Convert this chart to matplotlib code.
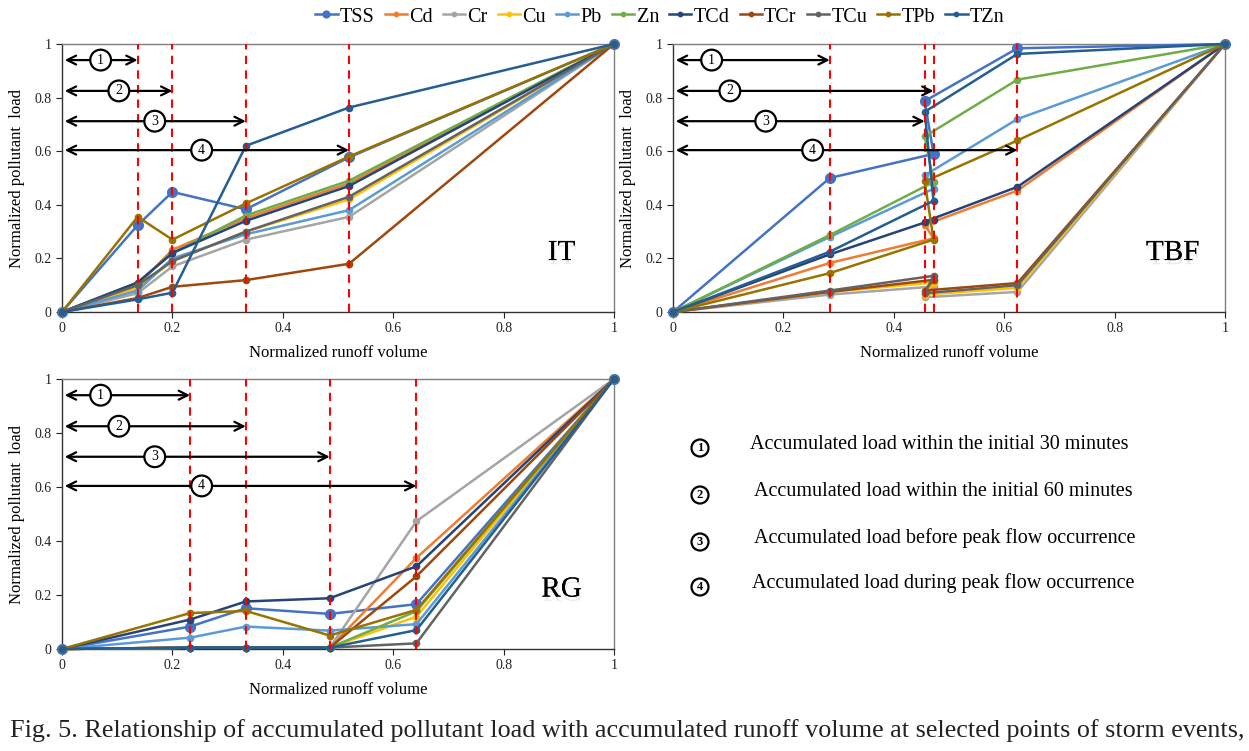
import matplotlib
matplotlib.use("Agg")
import matplotlib.pyplot as plt
import matplotlib.patheffects as pe

plt.rcParams['font.family'] = ['Liberation Serif', 'DejaVu Serif']

# series names and colours (Excel palette)
series = ['TSS', 'Cd', 'Cr', 'Cu', 'Pb', 'Zn', 'TCd', 'TCr', 'TCu', 'TPb', 'TZn']
colors = ['#4472C4', '#ED7D31', '#A5A5A5', '#FFC000', '#5B9BD5', '#70AD47',
          '#264478', '#9E480E', '#636363', '#997300', '#255E91']

# normalized runoff volume at selected points (0, 30 min, 60 min, before peak, peak, end)
x_it = [0, 0.137, 0.2, 0.333, 0.52, 1]
x_tbf = [0, 0.284, 0.472, 0.456, 0.624, 1]
x_rg = [0, 0.232, 0.333, 0.485, 0.642, 1]

# normalized pollutant load, one row per series
y_it = [
    [0, 0.324, 0.448, 0.383, 0.577, 1],
    [0, 0.10, 0.232, 0.35, 0.48, 1],
    [0, 0.07, 0.17, 0.27, 0.355, 1],
    [0, 0.09, 0.19, 0.30, 0.42, 1],
    [0, 0.08, 0.20, 0.29, 0.38, 1],
    [0, 0.11, 0.22, 0.36, 0.49, 1],
    [0, 0.11, 0.22, 0.34, 0.47, 1],
    [0, 0.052, 0.094, 0.119, 0.18, 1],
    [0, 0.10, 0.19, 0.30, 0.43, 1],
    [0, 0.355, 0.27, 0.405, 0.58, 1],
    [0, 0.047, 0.072, 0.62, 0.763, 1],
]
y_tbf = [
    [0, 0.50, 0.59, 0.787, 0.984, 1],
    [0, 0.183, 0.275, 0.325, 0.453, 1],
    [0, 0.065, 0.095, 0.055, 0.075, 1],
    [0, 0.075, 0.11, 0.065, 0.09, 1],
    [0, 0.28, 0.46, 0.51, 0.72, 1],
    [0, 0.287, 0.485, 0.655, 0.867, 1],
    [0, 0.215, 0.345, 0.337, 0.467, 1],
    [0, 0.075, 0.12, 0.08, 0.108, 1],
    [0, 0.08, 0.135, 0.07, 0.10, 1],
    [0, 0.145, 0.27, 0.487, 0.64, 1],
    [0, 0.225, 0.415, 0.747, 0.963, 1],
]
y_rg = [
    [0, 0.083, 0.151, 0.13, 0.166, 1],
    [0, 0.005, 0.005, 0.005, 0.337, 1],
    [0, 0.005, 0.005, 0.005, 0.473, 1],
    [0, 0.005, 0.005, 0.005, 0.12, 1],
    [0, 0.042, 0.083, 0.068, 0.092, 1],
    [0, 0.005, 0.005, 0.005, 0.14, 1],
    [0, 0.109, 0.176, 0.188, 0.306, 1],
    [0, 0.005, 0.005, 0.005, 0.269, 1],
    [0, 0.005, 0.005, 0.005, 0.021, 1],
    [0, 0.133, 0.141, 0.05, 0.145, 1],
    [0, 0.005, 0.005, 0.005, 0.07, 1],
]

marks = ['1', '2', '3', '4']
mark_text = ['Accumulated load within the initial 30 minutes',
             'Accumulated load within the initial 60 minutes',
             'Accumulated load before peak flow occurrence',
             'Accumulated load during peak flow occurrence']
arrow_y = [0.94, 0.825, 0.712, 0.604]
mark_x = [0.07, 0.103, 0.168, 0.253]

fig = plt.figure(figsize=(12.49, 7.51), dpi=100)
W, H = 1249, 751


def add_panel(left, top, right, bottom, xs, ys, name):
    ax = fig.add_axes([left / W, 1 - bottom / H, (right - left) / W, (bottom - top) / H])
    lines = []
    for i, s in enumerate(series):
        ms = 7 if s == 'TSS' else 4.5
        ln, = ax.plot(xs, ys[i], color=colors[i], lw=1.8, marker='o', ms=ms,
                      label=s, clip_on=False, zorder=3)
        lines.append(ln)
    # selected points: dashed red lines and arrows
    for k in range(4):
        xv = xs[k + 1]
        ax.plot([xv, xv], [0, 1], color='#FF0000', lw=1.5, ls=(0, (4, 3)), zorder=4)
        ax.annotate('', xy=(xv, arrow_y[k]), xytext=(0.005, arrow_y[k]),
                    arrowprops=dict(arrowstyle='<->', lw=1.6, color='black',
                                    mutation_scale=16, shrinkA=0, shrinkB=0),
                    zorder=5)
        ax.text(mark_x[k], arrow_y[k], marks[k], ha='center', va='center', fontsize=10,
                bbox=dict(boxstyle='circle,pad=0.28', fc='white', ec='black', lw=1.6),
                zorder=6)
    ax.set_xlim(0, 1)
    ax.set_ylim(0, 1)
    ax.set_xticks([0, 0.2, 0.4, 0.6, 0.8, 1])
    ax.set_xticklabels(['0', '0.2', '0.4', '0.6', '0.8', '1'])
    ax.set_yticks([0, 0.2, 0.4, 0.6, 0.8, 1])
    ax.set_yticklabels(['0', '0.2', '0.4', '0.6', '0.8', '1'])
    ax.tick_params(labelsize=10, direction='out', length=4, width=0.8, colors='#222222')
    for sp in ax.spines.values():
        sp.set_color('#7f7f7f')
        sp.set_linewidth(1.0)
    ax.spines['left'].set_color('#333333')
    ax.spines['bottom'].set_color('#333333')
    ax.set_xlabel('Normalized runoff volume', fontsize=12, labelpad=7)
    ax.set_ylabel('Normalized pollutant  load', fontsize=12, labelpad=7)
    ax.text(0.905, 0.22, name, fontsize=21, ha='center', va='center',
            path_effects=[pe.withSimplePatchShadow(offset=(0.8, -3), alpha=0.12,
                                                   shadow_rgbFace='#555555'),
                          pe.Normal()], zorder=6)
    return lines


lines = add_panel(62, 44, 614, 312, x_it, y_it, 'IT')
add_panel(673, 44, 1225, 312, x_tbf, y_tbf, 'TBF')
add_panel(62, 379, 614, 649, x_rg, y_rg, 'RG')

fig.legend(handles=lines, labels=series, loc='center', bbox_to_anchor=(660 / W, 1 - 17 / H),
           ncol=11, frameon=False, fontsize=14.5, handlelength=1.1, handletextpad=0.12,
           columnspacing=0.5, borderaxespad=0, markerscale=0.7)

# explanation of the circled numbers
for k in range(4):
    yy = 1 - [448, 495, 542, 587][k] / H
    fig.text(700 / W, yy, marks[k], ha='center', va='center', fontsize=9, fontweight='bold',
             bbox=dict(boxstyle='circle,pad=0.2', fc='white', ec='black', lw=1.6))
    fig.text([750, 754, 754, 752][k] / W, yy + 0.005, mark_text[k], ha='left', va='center',
             fontsize=14.5)

fig.text(10 / W, 1 - 731 / H,
         'Fig. 5. Relationship of accumulated pollutant load with accumulated runoff volume at selected points of storm events,',
         ha='left', va='center', fontsize=18.8, color='#222222')

fig.savefig('out.png', dpi=100)
